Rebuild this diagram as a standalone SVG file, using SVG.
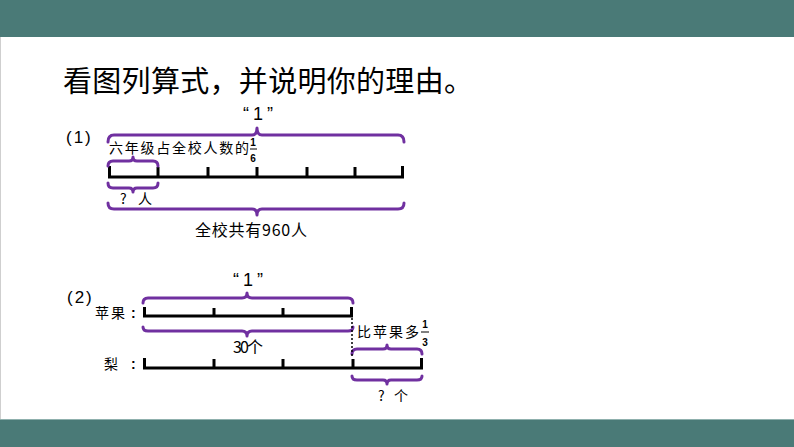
<svg xmlns="http://www.w3.org/2000/svg" width="794" height="447" viewBox="0 0 794 447">
<style>
.band{fill:#4a7a77}
.br{fill:none;stroke:#7030a0;stroke-width:3;stroke-linecap:round;stroke-linejoin:round}
.ax{fill:none;stroke:#000;stroke-width:3;stroke-linecap:butt}
.t{font-family:"Noto Sans CJK SC","Liberation Sans",sans-serif;fill:#000}
.s{font-family:"Noto Sans CJK SC","Liberation Sans",sans-serif;fill:#000;font-size:14px}
.n{font-family:"Liberation Sans",sans-serif;fill:#000}
.q{font-family:"Liberation Sans",sans-serif;fill:#000;font-size:18px;letter-spacing:4px}
.fr{font-family:"Liberation Sans",sans-serif;font-size:10px;font-weight:bold;text-anchor:middle}
</style>
<rect width="794" height="447" fill="#fff"/>
<rect class="band" x="0" y="0" width="794" height="37"/>
<rect class="band" x="0" y="419" width="794" height="28"/>
<line x1="0" y1="419.5" x2="794" y2="419.5" stroke="#8fb0ad" stroke-width="1"/>
<line x1="0.5" y1="37" x2="0.5" y2="419" stroke="#cfcfcf" stroke-width="1"/>

<g id="title"><text class="t" x="63" y="92" font-size="29" textLength="410" lengthAdjust="spacing">看图列算式，并说明你的理由。</text></g>

<g id="part1">
<text class="n" x="66" y="143" font-size="17" letter-spacing="2">(1)</text>
<text class="q" x="243" y="120">“1”</text>
<text class="s" x="109" y="153" textLength="140" lengthAdjust="spacing">六年级占全校人数的</text>
<text class="fr" x="253" y="146">1</text>
<line x1="250" y1="149" x2="257" y2="149" stroke="#000" stroke-width="1"/>
<text class="fr" x="253" y="162">6</text>
<text class="s" x="120" y="204" textLength="32" lengthAdjust="spacing">? 人</text>
<text class="t" x="195" y="236" font-size="16" textLength="112" lengthAdjust="spacing">全校共有960人</text>
</g>

<g id="part2">
<text class="n" x="67" y="303" font-size="17" letter-spacing="2">(2)</text>
<text class="q" x="233" y="286">“1”</text>
<text class="s" x="95" y="318" textLength="30" lengthAdjust="spacing">苹果</text>
<text class="n" x="131" y="318" font-size="14" font-weight="bold">:</text>
<text class="s" x="104" y="369">梨</text>
<text class="n" x="131" y="369" font-size="14" font-weight="bold">:</text>
<text class="t" x="233" y="353" font-size="16" textLength="30" lengthAdjust="spacing">30个</text>
<text class="s" x="357" y="337" textLength="62" lengthAdjust="spacing">比苹果多</text>
<text class="fr" x="425" y="328">1</text>
<line x1="421" y1="332" x2="429" y2="332" stroke="#000" stroke-width="1"/>
<text class="fr" x="425" y="346">3</text>
<text class="s" x="378" y="401" textLength="30" lengthAdjust="spacing">? 个</text>
</g>

<g id="axes">
<path class="ax" d="M108 177H404M109.5 166V178M158 167V178M208 167V178M257 167V178M307 167V178M355 167V178M402.5 166V178"/>
<path class="ax" d="M143 316H353M144.5 307V317M214 308V317M283 308V317M351.5 307V317"/>
<path class="ax" d="M143 368H423M144.5 358V369M214 359V369M283 359V369M353 359V369M421.5 358V369"/>
</g>

<g id="connectors">
<path class="br" d="M108 142Q108 135 114 135L252 135Q257 135 257 128Q257 135 262 135L398 135Q404 135 404 142"/>
<path class="br" d="M108 166Q108 161 113 161L129 161Q133 161 133 157Q133 161 137 161L153 161Q158 161 158 166"/>
<path class="br" d="M108 183Q108 188 113 188L129 188Q133 188 133 192Q133 188 137 188L153 188Q158 188 158 183"/>
<path class="br" d="M108 203Q108 209 114 209L252 209Q257 209 257 215Q257 209 262 209L398 209Q404 209 404 203"/>
<path class="br" d="M143 303Q143 298 148 298L242 298Q247 298 247 293Q247 298 252 298L348 298Q353 298 353 303"/>
<path class="br" d="M143 327Q143 331 148 331L242 331Q247 331 247 336Q247 331 252 331L348 331Q353 331 353 327"/>
<path class="br" d="M352 354Q352 349 357 349L383 349Q387 349 387 345Q387 349 391 349L417 349Q422 349 422 354"/>
<path class="br" d="M352 376Q352 380 357 380L383 380Q387 380 387 384Q387 380 391 380L417 380Q422 380 422 376"/>
<line x1="352" y1="318" x2="352" y2="358" stroke="#000" stroke-width="1.5" stroke-dasharray="2 2"/>
</g>
</svg>
